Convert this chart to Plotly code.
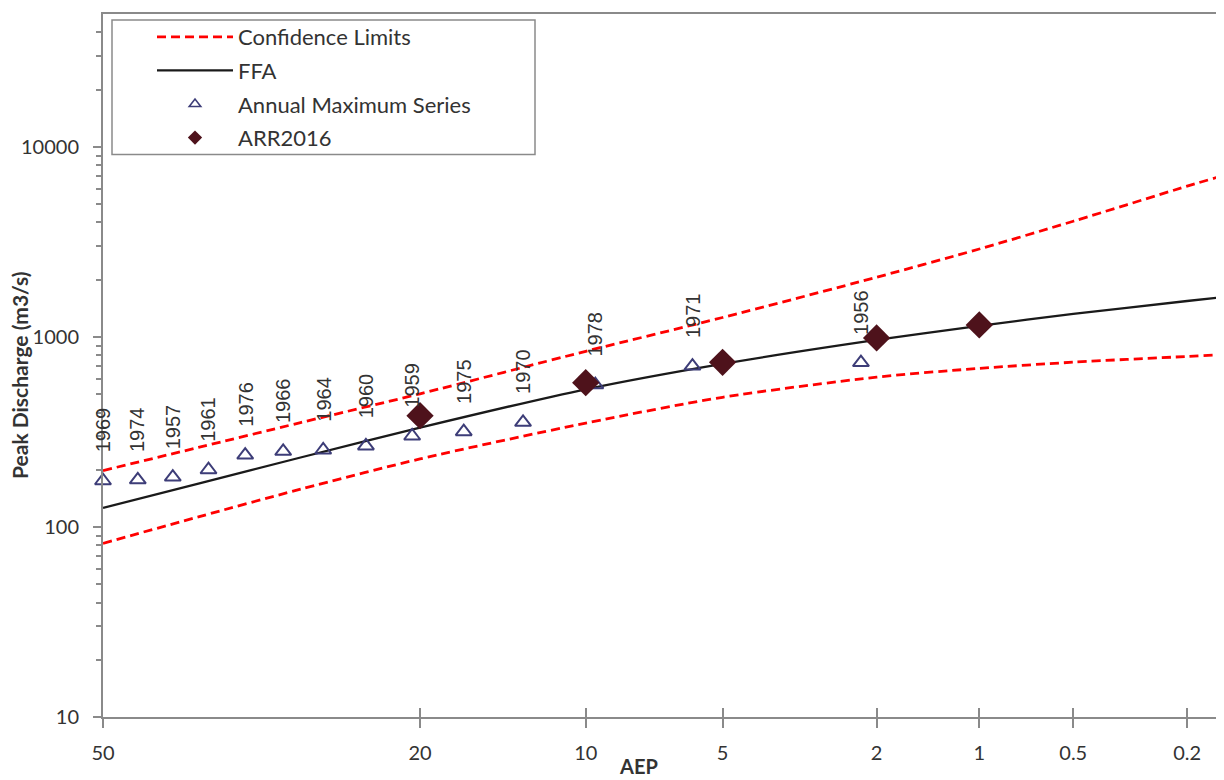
from statistics import NormalDist
import math
import plotly.graph_objects as go

# ---------------- data ----------------
# Annual maximum series (AEP %, peak discharge m3/s, year label)
ams_years = ["1956", "1971", "1978", "1970", "1975", "1959", "1960",
             "1964", "1966", "1976", "1961", "1957", "1974", "1969"]
ams_aep = [2.21, 5.88, 9.56, 13.24, 16.91, 20.59, 24.26,
           27.94, 31.62, 35.29, 38.97, 42.65, 46.32, 50.0]
ams_q = [733, 702, 560, 355, 317, 301, 267, 254, 250, 239, 200, 183, 177, 175]

# ARR2016 design discharges
arr_aep = [20, 10, 5, 2, 1]
arr_q = [385, 574, 735, 988, 1156]

# Flood frequency curve and confidence limits
curve_aep = [50, 40, 30, 20, 10, 5, 2, 1, 0.5, 0.2, 0.146]
ffa_q = [126, 169, 232, 333, 530, 721, 964, 1143, 1320, 1545, 1622]
upper_q = [198, 262, 354, 502, 840, 1265, 2060, 2900, 4060, 6210, 7080]
lower_q = [82, 113, 158, 228, 352, 481, 614, 683, 736, 789, 807]

# Axis ticks
tick_aep = [50, 20, 10, 5, 2, 1, 0.5, 0.2]
tick_text = ["50", "20", "10", "5", "2", "1", "0.5", "0.2"]
y_tickvals = [10, 100, 1000, 10000]
y_ticktext = ["10", "100", "1000", "10000"]
y_minor = [m * d for d in (10, 100, 1000, 10000) for m in range(2, 10) if m * d < 50000]

# ---------------- probability scale transform ----------------
_nd = NormalDist()


def z(aep):
    """Normal-probability position of an exceedance probability in %."""
    return _nd.inv_cdf(1 - aep / 100.0)


def zs(vals):
    return [z(v) for v in vals]


# The page has an 8px body margin: compensate so the plot lands where wanted.
OFF = 8
W, H = 1224, 780
P_LEFT, P_RIGHT, P_TOP, P_BOT = 103, 1224, 12, 717     # plot area in page pixels
ML, MR, MT, MB = P_LEFT - OFF, W - (P_RIGHT - OFF), P_TOP - OFF, H - (P_BOT - OFF)
PW, PH = P_RIGHT - P_LEFT, P_BOT - P_TOP


def px(xp):
    return (xp - P_LEFT) / PW


def py(yp):
    return 1 - (yp - P_TOP) / PH


AXIS_COL = "#8a8a8a"
TXT_COL = "#333333"
FONT = "Lato, Carlito, Calibri, sans-serif"
TICK_FONT = dict(family=FONT, size=20, color=TXT_COL)
RED_LINE = dict(color="#ff0000", width=2.8, dash="9px,5px", shape="spline", smoothing=0.8)
BLACK_LINE = dict(color="#1a1a1a", width=2.3, shape="spline", smoothing=0.8)
TRI_COL = "#3d3d78"
DIA_COL = "#4e121b"

fig = go.Figure()

fig.add_trace(go.Scatter(x=zs(curve_aep), y=upper_q, mode="lines",
                         name="Confidence Limits", line=RED_LINE, showlegend=False))
fig.add_trace(go.Scatter(x=zs(curve_aep), y=lower_q, mode="lines",
                         name="Confidence Limits", line=RED_LINE, showlegend=False))
fig.add_trace(go.Scatter(x=zs(curve_aep), y=ffa_q, mode="lines",
                         name="FFA", line=BLACK_LINE, showlegend=False))
fig.add_trace(go.Scatter(
    x=zs(ams_aep), y=ams_q, mode="markers", name="Annual Maximum Series",
    marker=dict(symbol="triangle-up-open", size=14, color=TRI_COL,
                line=dict(width=2, color=TRI_COL)), showlegend=False,
    cliponaxis=False))
fig.add_trace(go.Scatter(
    x=zs(arr_aep), y=arr_q, mode="markers", name="ARR2016",
    marker=dict(symbol="diamond", size=21, color=DIA_COL, line=dict(width=0)),
    showlegend=False, cliponaxis=False))

# legend entries (legend-only traces so the legend symbols can be smaller)
fig.add_trace(go.Scatter(x=[None], y=[None], mode="lines", name="Confidence Limits",
                         line=RED_LINE, legendgroup="a"))
fig.add_trace(go.Scatter(x=[None], y=[None], mode="lines", name="FFA",
                         line=BLACK_LINE, legendgroup="b"))
fig.add_trace(go.Scatter(x=[None], y=[None], mode="markers", name="Annual Maximum Series",
                         marker=dict(symbol="triangle-up-open", size=10, color=TRI_COL,
                                     line=dict(width=1.6, color=TRI_COL)),
                         legendgroup="c"))
fig.add_trace(go.Scatter(x=[None], y=[None], mode="markers", name="ARR2016",
                         marker=dict(symbol="diamond", size=11, color=DIA_COL,
                                     line=dict(width=0)),
                         legendgroup="d"))

# year labels above the annual maximum points
for yr, a, q in zip(ams_years, ams_aep, ams_q):
    fig.add_annotation(
        x=z(a), y=math.log10(q), xref="x", yref="y", text=yr, textangle=-90,
        showarrow=False, xanchor="center", yanchor="bottom", yshift=26,
        font=dict(family="Liberation Sans, Arial, sans-serif", size=20, color="#333333"))

# axis titles
fig.add_annotation(
    x=px(20), y=py(374), xref="paper", yref="paper",
    text="<b>Peak Discharge (m3/s)</b>", textangle=-90, showarrow=False,
    xanchor="center", yanchor="middle",
    font=dict(family=FONT, size=21, color=TXT_COL))
fig.add_annotation(
    x=px(638), y=py(766), xref="paper", yref="paper",
    text="<b>AEP</b>", showarrow=False, xanchor="center", yanchor="middle",
    font=dict(family=FONT, size=20, color=TXT_COL))

# legend frame
fig.add_shape(type="rect", xref="paper", yref="paper",
              x0=px(112), x1=px(535), y0=py(153), y1=py(18),
              line=dict(color="#8a8a8a", width=1.5), fillcolor="white", layer="below")

xr = [0, z(0.146)]
common_x = dict(range=xr, tickvals=zs(tick_aep), ticktext=tick_text)

fig.update_layout(
    width=W, height=H,
    margin=dict(l=ML, r=MR, t=MT, b=MB, pad=0),
    paper_bgcolor="white", plot_bgcolor="white",
    showlegend=True,
    legend=dict(x=px(152), y=py(14), xanchor="left", yanchor="top",
                bgcolor="rgba(0,0,0,0)", borderwidth=0, itemwidth=76,
                tracegroupgap=2,
                font=dict(family=FONT, size=22, color=TXT_COL)),
    xaxis=dict(**common_x, showgrid=False, zeroline=False, showline=True,
               linecolor=AXIS_COL, linewidth=2, mirror=True,
               ticks="outside", ticklen=9, tickwidth=1.5, tickcolor=AXIS_COL,
               tickfont=TICK_FONT, ticklabelstandoff=8),
    xaxis2=dict(**common_x, overlaying="x", side="bottom", showgrid=False,
                zeroline=False, showline=False, showticklabels=False,
                ticks="inside", ticklen=9, tickwidth=1.5, tickcolor=AXIS_COL),
    yaxis=dict(type="log", range=[1, math.log10(50000)], tickvals=y_tickvals,
               ticktext=y_ticktext, showgrid=False, zeroline=False, showline=True,
               linecolor=AXIS_COL, linewidth=2, ticks="outside", ticklen=8,
               tickwidth=1.5, tickcolor=AXIS_COL, tickfont=TICK_FONT,
               ticklabelstandoff=10,
               minor=dict(tickvals=y_minor, ticks="outside", ticklen=5,
                          tickwidth=1.5, tickcolor=AXIS_COL, showgrid=False)),
)

# invisible trace to activate the overlaying x axis (gives crossing ticks)
fig.add_trace(go.Scatter(x=[None], y=[None], xaxis="x2", yaxis="y",
                         showlegend=False, hoverinfo="skip"))

fig.write_html("out.html")
